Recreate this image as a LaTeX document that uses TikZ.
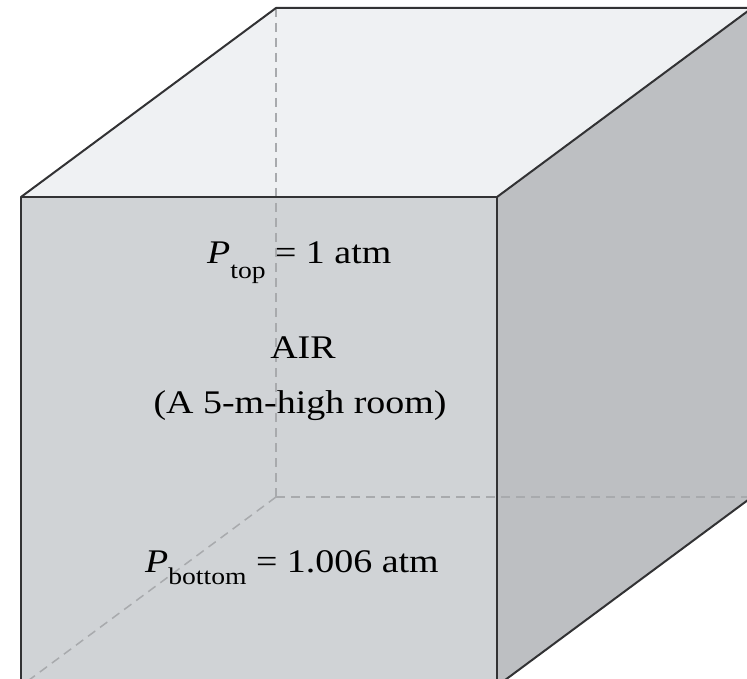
\documentclass[tikz,border=0pt]{standalone}
\usepackage{fontspec}
\setmainfont{Liberation Serif}
\usetikzlibrary{positioning}
\definecolor{frontgray}{RGB}{208,211,214}
\definecolor{topgray}{RGB}{239,241,243}
\definecolor{sidegray}{RGB}{189,191,194}
\definecolor{edgegray}{RGB}{50,50,52}
\definecolor{hiddengray}{RGB}{168,170,173}
\newcommand{\bigtext}{\fontsize{33}{40}\selectfont}
\newcommand{\subtext}{\fontsize{24}{28}\selectfont}

\begin{document}
\begin{tikzpicture}[x=1pt,y=-1pt,
  edge/.style={draw=edgegray,line width=2pt,line join=round},
  hidden/.style={draw=hiddengray,line width=1.5pt,dash pattern=on 9pt off 6pt},
  label/.style={inner sep=0pt,font=\bigtext}]
\useasboundingbox (0,0) rectangle (747,679);
\clip (0,0) rectangle (747,679);
% front and back corners
\coordinate (f1) at (21,197);
\coordinate (f2) at (497,197);
\coordinate (f3) at (497,686);
\coordinate (f4) at (21,686);
\coordinate (b1) at (276,8);
\coordinate (b2) at (752,8);
\coordinate (b3) at (752,497);
\coordinate (b4) at (276,497);
% faces
\fill[topgray] (f1) -- (b1) -- (b2) -- (f2) -- cycle;
\fill[sidegray] (f2) -- (b2) -- (b3) -- (f3) -- cycle;
\fill[frontgray] (f1) rectangle (f3);
% hidden edges
\draw[hidden] (b1) -- (b4);
\draw[hidden] (b4) -- (b3);
\draw[hidden] (b4) -- (f4);
% texts
\node[label,anchor=base west] (ptop) at (207,263)
  {\scalebox{1.15}[1]{{\itshape P}\raisebox{-15pt}{\subtext top}\ = 1 atm}};
\node[label,anchor=base] (air) at (303,358) {\scalebox{1.15}[1]{AIR}};
\node[label,anchor=base] (room) at (300,413) {\scalebox{1.15}[1]{(A 5-m-high room)}};
\node[label,anchor=base west] (pbottom) at (145,572)
  {\scalebox{1.15}[1]{{\itshape P}\raisebox{-12pt}{\subtext bottom}\ = 1.006 atm}};
% visible edges
\draw[edge] (f4) -- (f1) -- (f2) -- (f3);
\draw[edge] (f1) -- (b1) -- (b2) -- (f2);
\draw[edge] (b2) -- (b3) -- (f3);
\end{tikzpicture}
\end{document}
